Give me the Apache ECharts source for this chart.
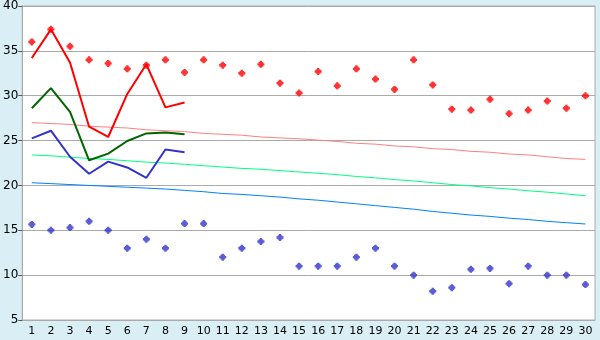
<!DOCTYPE html>
<html><head><meta charset="utf-8">
<script src="https://cdn.jsdelivr.net/npm/echarts@6/dist/echarts.min.js"></script>
<style>html,body{margin:0;padding:0;background:#d9eff5;}#c{width:600px;height:340px;}</style>
</head><body><div id="c"></div>
<script>
var categories = ['1','2','3','4','5','6','7','8','9','10','11','12','13','14','15','16','17','18','19','20','21','22','23','24','25','26','27','28','29','30'];
var yTicks = [5,10,15,20,25,30,35,40];
var redPoints = [36,37.4,35.5,34,33.6,33,33.4,34,32.6,34,33.4,32.5,33.5,31.4,30.3,32.7,31.1,33,31.85,30.7,34,31.2,28.5,28.4,29.6,28,28.4,29.4,28.6,30];
var bluePoints = [15.65,15,15.3,16,15,13,14,13,15.75,15.75,12,13,13.75,14.2,11,11,11,12,13,11,10,8.2,8.6,10.65,10.75,9.05,11,10,10,8.95];
var redLine = [34.2,37.4,33.7,26.55,25.4,30.2,33.5,28.7,29.25];
var greenLine = [28.6,30.85,28.2,22.8,23.55,24.95,25.8,25.9,25.7];
var blueLine = [25.25,26.1,23.2,21.3,22.65,22.0,20.85,24.0,23.7];
var pinkTrend = [27.0,26.9,26.8,26.6,26.5,26.4,26.2,26.1,26.0,25.8,25.7,25.6,25.4,25.3,25.2,25.05,24.9,24.7,24.6,24.4,24.3,24.1,24.0,23.8,23.7,23.5,23.4,23.2,23.0,22.9];
var greenTrend = [23.4,23.3,23.15,23.0,22.9,22.75,22.6,22.5,22.35,22.2,22.05,21.9,21.8,21.65,21.5,21.35,21.2,21.0,20.85,20.65,20.5,20.3,20.1,19.95,19.75,19.6,19.4,19.25,19.05,18.85];
var blueTrend = [20.3,20.2,20.1,20.0,19.9,19.8,19.7,19.6,19.45,19.3,19.1,19.0,18.85,18.7,18.5,18.35,18.15,17.95,17.75,17.55,17.35,17.1,16.9,16.7,16.55,16.35,16.2,16.0,15.85,15.7];

var plus = 'path://M2,0H4V1H5V2H6V4H5V5H4V6H2V5H1V4H0V2H1V1H2Z';
var chart = echarts.init(document.getElementById('c'), null, {renderer:'canvas'});
function trend(d, c){ return {type:'line', data:d, symbol:'none', lineStyle:{color:c, width:1}, z:1, silent:true, animation:false}; }
function main(d, c){ return {type:'line', data:d, symbol:'none', lineStyle:{color:c, width:2}, z:3, animation:false}; }
function pts(d, c){ return {type:'scatter', data:d, symbol:plus, symbolSize:7, itemStyle:{color:c}, z:4, animation:false}; }
chart.setOption({
  backgroundColor:'#d9eff5',
  animation:false,
  grid:{left:20, right:5, top:5, bottom:20, show:true, backgroundColor:'#ffffff', borderColor:'#aaaaaa', borderWidth:1},
  xAxis:{type:'category', data:categories, boundaryGap:true,
    axisLine:{lineStyle:{color:'#aaaaaa'}},
    axisTick:{alignWithLabel:true, length:5, lineStyle:{color:'#555555'}},
    axisLabel:{color:'#000', fontSize:11, fontFamily:'DejaVu Sans', margin:6, interval:0},
    splitLine:{show:false}},
  yAxis:{type:'value', min:yTicks[0], max:yTicks[yTicks.length-1], interval:5,
    axisLine:{show:true, lineStyle:{color:'#aaaaaa'}},
    axisTick:{show:true, length:4, lineStyle:{color:'#555555'}},
    axisLabel:{color:'#000', fontSize:12, fontFamily:'DejaVu Sans', margin:4},
    splitLine:{lineStyle:{color:'#aaaaaa'}}},
  series:[
    trend(pinkTrend,'#ff8080'),
    trend(greenTrend,'#00ff80'),
    trend(blueTrend,'#0080ff'),
    main(redLine,'#ff0000'),
    main(greenLine,'#006600'),
    main(blueLine,'#3333cc'),
    pts(redPoints,'#ff0000'),
    pts(bluePoints,'#3333cc')
  ]
});
</script></body></html>
